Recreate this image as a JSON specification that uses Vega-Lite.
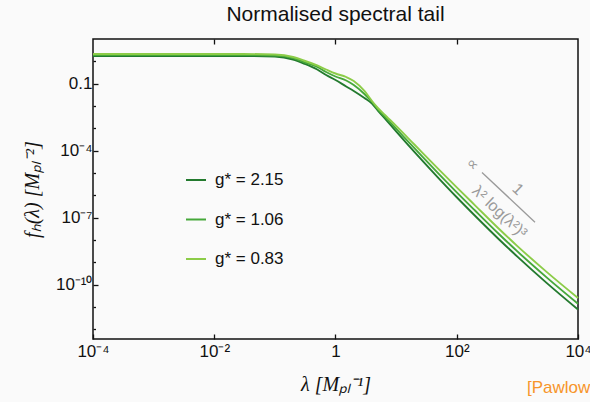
{
  "$schema": "https://vega.github.io/schema/vega-lite/v6.json",
  "width": 485,
  "height": 300,
  "autosize": {"type": "none"},
  "padding": {"left": 93, "top": 39, "right": 12, "bottom": 63},
  "background": "#fafafa",
  "config": {
    "font": "Liberation Sans",
    "view": {"stroke": "#111111", "strokeWidth": 1.5},
    "axis": {
      "domain": false,
      "grid": false,
      "tickColor": "#111111",
      "tickWidth": 1.3,
      "labelFont": "Liberation Sans",
      "labelFontSize": 17,
      "labelColor": "#111111",
      "labelFlush": false,
      "labelOverlap": false,
      "labelBound": false,
      "titleFont": "Liberation Serif",
      "titleFontStyle": "italic",
      "titleFontWeight": "normal",
      "titleFontSize": 20,
      "titleColor": "#111111"
    }
  },
  "title": {
    "text": "Normalised spectral tail",
    "fontSize": 21,
    "fontWeight": "normal",
    "font": "Liberation Sans",
    "color": "#111111",
    "offset": 13
  },
  "datasets": {
    "spectra": [
      {"lam": 0.0001, "f": 1.733, "g": "g* = 2.15"},
      {"lam": 0.001, "f": 1.733, "g": "g* = 2.15"},
      {"lam": 0.01, "f": 1.733, "g": "g* = 2.15"},
      {"lam": 0.03, "f": 1.733, "g": "g* = 2.15"},
      {"lam": 0.1, "f": 1.646, "g": "g* = 2.15"},
      {"lam": 0.2, "f": 1.208, "g": "g* = 2.15"},
      {"lam": 0.3, "f": 0.800, "g": "g* = 2.15"},
      {"lam": 0.5, "f": 0.431, "g": "g* = 2.15"},
      {"lam": 0.7, "f": 0.2444, "g": "g* = 2.15"},
      {"lam": 1, "f": 0.146, "g": "g* = 2.15"},
      {"lam": 1.5, "f": 0.0747, "g": "g* = 2.15"},
      {"lam": 2, "f": 0.0470, "g": "g* = 2.15"},
      {"lam": 3, "f": 0.0228, "g": "g* = 2.15"},
      {"lam": 4, "f": 0.01295, "g": "g* = 2.15"},
      {"lam": 5, "f": 0.00626, "g": "g* = 2.15"},
      {"lam": 7, "f": 0.00221, "g": "g* = 2.15"},
      {"lam": 10, "f": 0.000727, "g": "g* = 2.15"},
      {"lam": 20, "f": 8.76e-5, "g": "g* = 2.15"},
      {"lam": 50, "f": 5.91e-6, "g": "g* = 2.15"},
      {"lam": 100, "f": 8.19e-7, "g": "g* = 2.15"},
      {"lam": 200, "f": 1.218e-7, "g": "g* = 2.15"},
      {"lam": 500, "f": 1.058e-8, "g": "g* = 2.15"},
      {"lam": 1000, "f": 1.81e-9, "g": "g* = 2.15"},
      {"lam": 3000, "f": 1.24e-10, "g": "g* = 2.15"},
      {"lam": 10000, "f": 7.74e-12, "g": "g* = 2.15"},

      {"lam": 0.0001, "f": 1.921, "g": "g* = 1.06"},
      {"lam": 0.001, "f": 1.921, "g": "g* = 1.06"},
      {"lam": 0.01, "f": 1.921, "g": "g* = 1.06"},
      {"lam": 0.03, "f": 1.921, "g": "g* = 1.06"},
      {"lam": 0.1, "f": 1.825, "g": "g* = 1.06"},
      {"lam": 0.2, "f": 1.410, "g": "g* = 1.06"},
      {"lam": 0.3, "f": 0.934, "g": "g* = 1.06"},
      {"lam": 0.5, "f": 0.558, "g": "g* = 1.06"},
      {"lam": 0.7, "f": 0.333, "g": "g* = 1.06"},
      {"lam": 1, "f": 0.2094, "g": "g* = 1.06"},
      {"lam": 1.5, "f": 0.1387, "g": "g* = 1.06"},
      {"lam": 2, "f": 0.0872, "g": "g* = 1.06"},
      {"lam": 3, "f": 0.0345, "g": "g* = 1.06"},
      {"lam": 4, "f": 0.01511, "g": "g* = 1.06"},
      {"lam": 5, "f": 0.00712, "g": "g* = 1.06"},
      {"lam": 7, "f": 0.00270, "g": "g* = 1.06"},
      {"lam": 10, "f": 0.000964, "g": "g* = 1.06"},
      {"lam": 20, "f": 1.29e-4, "g": "g* = 1.06"},
      {"lam": 50, "f": 9.41e-6, "g": "g* = 1.06"},
      {"lam": 100, "f": 1.369e-6, "g": "g* = 1.06"},
      {"lam": 200, "f": 2.097e-7, "g": "g* = 1.06"},
      {"lam": 500, "f": 1.82e-8, "g": "g* = 1.06"},
      {"lam": 1000, "f": 3.09e-9, "g": "g* = 1.06"},
      {"lam": 3000, "f": 2.185e-10, "g": "g* = 1.06"},
      {"lam": 10000, "f": 1.40e-11, "g": "g* = 1.06"},

      {"lam": 0.0001, "f": 2.130, "g": "g* = 0.83"},
      {"lam": 0.001, "f": 2.130, "g": "g* = 0.83"},
      {"lam": 0.01, "f": 2.130, "g": "g* = 0.83"},
      {"lam": 0.03, "f": 2.130, "g": "g* = 0.83"},
      {"lam": 0.1, "f": 2.023, "g": "g* = 0.83"},
      {"lam": 0.2, "f": 1.564, "g": "g* = 0.83"},
      {"lam": 0.3, "f": 1.090, "g": "g* = 0.83"},
      {"lam": 0.5, "f": 0.651, "g": "g* = 0.83"},
      {"lam": 0.7, "f": 0.431, "g": "g* = 0.83"},
      {"lam": 1, "f": 0.2852, "g": "g* = 0.83"},
      {"lam": 1.5, "f": 0.1989, "g": "g* = 0.83"},
      {"lam": 2, "f": 0.1317, "g": "g* = 0.83"},
      {"lam": 3, "f": 0.0470, "g": "g* = 0.83"},
      {"lam": 4, "f": 0.01675, "g": "g* = 0.83"},
      {"lam": 5, "f": 0.00814, "g": "g* = 0.83"},
      {"lam": 7, "f": 0.00332, "g": "g* = 0.83"},
      {"lam": 10, "f": 0.001286, "g": "g* = 0.83"},
      {"lam": 20, "f": 1.89e-4, "g": "g* = 0.83"},
      {"lam": 50, "f": 1.497e-5, "g": "g* = 0.83"},
      {"lam": 100, "f": 2.29e-6, "g": "g* = 0.83"},
      {"lam": 200, "f": 3.58e-7, "g": "g* = 0.83"},
      {"lam": 500, "f": 3.11e-8, "g": "g* = 0.83"},
      {"lam": 1000, "f": 5.34e-9, "g": "g* = 0.83"},
      {"lam": 3000, "f": 3.85e-10, "g": "g* = 0.83"},
      {"lam": 10000, "f": 2.53e-11, "g": "g* = 0.83"}
    ],
    "fraction": [
      {"lam": 180, "f": 2.4e-5, "t": "∝"},
      {"lam": 1023, "f": 1.85e-6, "t": "1"},
      {"lam": 510, "f": 1.8e-7, "t": "λ² log(λ²)³"}
    ],
    "bar": [
      {"lam": 261, "f": 1.06e-5, "lam2": 1954, "f2": 6.23e-8}
    ],
    "cite": [
      {"lam": 1442, "f": 2.42e-15, "t": "[Pawlowski et al.]"}
    ]
  },
  "resolve": {"axis": {"x": "independent", "y": "independent"}},
  "layer": [
    {
      "data": {"name": "spectra"},
      "mark": {"type": "line", "interpolate": "monotone", "strokeWidth": 1.9},
      "encoding": {
        "x": {
          "field": "lam", "type": "quantitative",
          "scale": {"type": "log", "domain": [0.0001, 10000]},
          "axis": {
            "orient": "bottom",
            "values": [0.0001, 0.01, 1, 100, 10000],
            "tickSize": -5,
            "labelPadding": 9,
            "labelExpr": "datum.value < 0.001 ? '10⁻⁴' : datum.value < 0.1 ? '10⁻²' : datum.value < 10 ? '1' : datum.value < 1000 ? '10²' : '10⁴'",
            "title": "λ [Mₚₗ⁻¹]",
            "titlePadding": 15
          }
        },
        "y": {
          "field": "f", "type": "quantitative",
          "scale": {"type": "log", "domain": [3.7e-13, 10]},
          "axis": {
            "orient": "left",
            "values": [0.1, 0.0001, 1e-7, 1e-10],
            "tickSize": -5,
            "labelPadding": 6,
            "labelExpr": "datum.value > 0.05 ? '0.1' : datum.value > 5e-5 ? '10⁻⁴' : datum.value > 5e-8 ? '10⁻⁷' : '10⁻¹⁰'",
            "title": "fₕ(λ) [Mₚₗ⁻²]",
            "titlePadding": 13
          }
        },
        "color": {
          "field": "g", "type": "nominal",
          "scale": {
            "domain": ["g* = 2.15", "g* = 1.06", "g* = 0.83"],
            "range": ["#237a2e", "#46a83a", "#8ccc48"]
          },
          "legend": {
            "orient": "none",
            "legendX": 92,
            "legendY": 130,
            "title": null,
            "padding": 0,
            "symbolType": "stroke",
            "symbolSize": 400,
            "symbolStrokeWidth": 2,
            "labelFont": "Liberation Sans",
            "labelFontSize": 17,
            "labelColor": "#111111",
            "labelOffset": 8,
            "rowPadding": 20.5
          }
        }
      }
    },
    {
      "data": {"name": "spectra"},
      "mark": {"type": "point", "opacity": 0},
      "encoding": {
        "x": {
          "field": "lam", "type": "quantitative",
          "scale": {"type": "log", "domain": [0.0001, 10000]},
          "axis": {"orient": "top", "values": [0.01, 1, 100], "tickSize": -5, "labels": false, "title": null}
        },
        "y": {
          "field": "f", "type": "quantitative",
          "scale": {"type": "log", "domain": [3.7e-13, 10]},
          "axis": {
            "orient": "left",
            "values": [1, 0.01, 0.001, 1e-5, 1e-6, 1e-8, 1e-9, 1e-11, 1e-12],
            "tickSize": -2.5,
            "labels": false,
            "title": null
          }
        }
      }
    },
    {
      "data": {"name": "bar"},
      "mark": {"type": "rule", "color": "#9a9a9a", "strokeWidth": 1.3},
      "encoding": {
        "x": {"field": "lam", "type": "quantitative", "scale": {"type": "log", "domain": [0.0001, 10000]}, "axis": null},
        "y": {"field": "f", "type": "quantitative", "scale": {"type": "log", "domain": [3.7e-13, 10]}, "axis": null},
        "x2": {"field": "lam2"},
        "y2": {"field": "f2"}
      }
    },
    {
      "data": {"name": "fraction"},
      "mark": {"type": "text", "angle": 43, "align": "center", "baseline": "middle", "fontSize": 16, "color": "#9a9a9a", "font": "Liberation Sans"},
      "encoding": {
        "x": {"field": "lam", "type": "quantitative", "scale": {"type": "log", "domain": [0.0001, 10000]}, "axis": null},
        "y": {"field": "f", "type": "quantitative", "scale": {"type": "log", "domain": [3.7e-13, 10]}, "axis": null},
        "text": {"field": "t"}
      }
    },
    {
      "data": {"name": "cite"},
      "mark": {"type": "text", "align": "left", "baseline": "middle", "fontSize": 17, "color": "#f7952a", "font": "Liberation Sans"},
      "encoding": {
        "x": {"field": "lam", "type": "quantitative", "scale": {"type": "log", "domain": [0.0001, 10000]}, "axis": null},
        "y": {"field": "f", "type": "quantitative", "scale": {"type": "log", "domain": [3.7e-13, 10]}, "axis": null},
        "text": {"field": "t"}
      }
    }
  ]
}
